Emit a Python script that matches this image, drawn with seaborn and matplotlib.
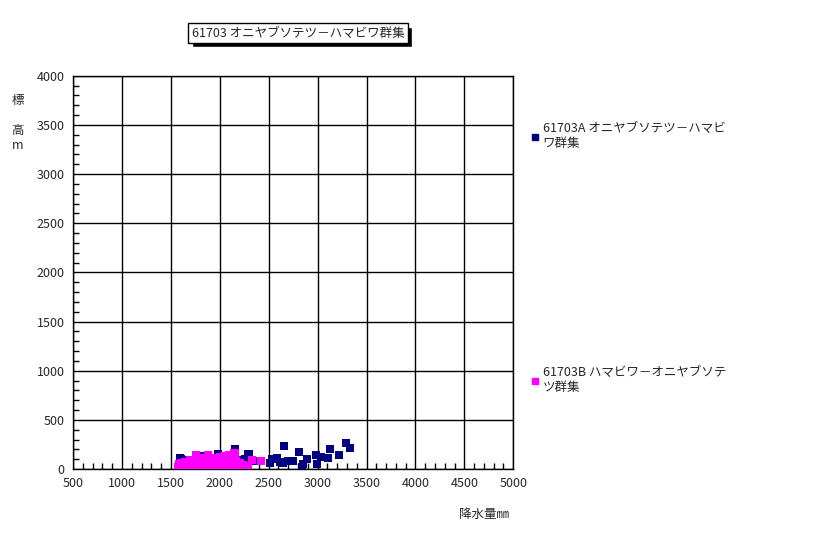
import pandas as pd
import matplotlib.pyplot as plt
import seaborn as sns
from matplotlib.ticker import MultipleLocator
from matplotlib.lines import Line2D
from matplotlib.patches import Rectangle

# group A (navy)
a_x = [1594, 1604, 1686, 1809, 1819, 1983, 2157, 2238, 2259, 2279, 2290, 2300, 2340,
       2514, 2535, 2586, 2616, 2647, 2657, 2698, 2750, 2810, 2841, 2851, 2892,
       2984, 2994, 3035, 3106, 3127, 3219, 3290, 3331]
a_y = [112, 102, 92, 132, 132, 153, 204, 92, 102, 61, 153, 153, 81,
       61, 102, 112, 71, 61, 234, 81, 81, 173, 20, 51, 102,
       143, 51, 122, 112, 204, 143, 265, 214]

# group B (magenta)
b_x = [1570, 1580, 1600, 1610, 1630, 1650, 1660, 1680, 1700, 1710, 1720, 1740, 1760,
       1770, 1790, 1800, 1820, 1830, 1850, 1860, 1880, 1890, 1900, 1920, 1930, 1950,
       1960, 1980, 2000, 2010, 2030, 2050, 2060, 2080, 2100, 2110, 2130, 2150, 2160,
       2180, 2200, 2220, 2240, 2260, 2290, 2330, 2420]
b_y = [20, 50, 30, 60, 10, 70, 40, 20, 90, 50, 10, 30, 140,
       60, 20, 100, 110, 40, 70, 10, 140, 90, 30, 110, 60, 20,
       80, 40, 120, 10, 70, 130, 30, 90, 140, 50, 20, 160, 80,
       40, 60, 20, 40, 10, 30, 90, 80]

label_a = '61703A オニヤブソテツ－ハマビ\nワ群集'
label_b = '61703B ハマビワ－オニヤブソテ\nツ群集'
title = '61703 オニヤブソテツ－ハマビワ群集'

df = pd.DataFrame({
    'x': a_x + b_x,
    'y': a_y + b_y,
    'group': ['A'] * len(a_x) + ['B'] * len(b_x),
})

sns.set_style('white')
plt.rcParams['font.family'] = ['Noto Sans CJK JP', 'DejaVu Sans']

fig = plt.figure(figsize=(8.16, 5.34), dpi=100)
ax = fig.add_axes([0.0895, 0.1217, 0.5395, 0.7363])

sns.scatterplot(data=df, x='x', y='y', hue='group', hue_order=['A', 'B'],
                palette={'A': '#000080', 'B': '#FF00FF'}, marker='s', s=36,
                linewidth=0, ax=ax, legend=False, zorder=3)

ax.set_xlim(500, 5000)
ax.set_ylim(0, 4000)
ax.xaxis.set_major_locator(MultipleLocator(500))
ax.yaxis.set_major_locator(MultipleLocator(500))
ax.xaxis.set_minor_locator(MultipleLocator(100))
ax.yaxis.set_minor_locator(MultipleLocator(100))
ax.grid(True, which='major', color='black', linewidth=1)
ax.tick_params(which='both', direction='in', color='black', labelsize=9,
               bottom=True, left=True)
ax.tick_params(which='major', length=0, pad=6)
ax.tick_params(which='minor', length=4, width=1)
for s in ax.spines.values():
    s.set_color('black')
    s.set_linewidth(1)
ax.set_xlabel('')
ax.set_ylabel('')

fig.text(0.593, 0.03, '降水量㎜', fontsize=9, ha='center')
fig.text(0.022, 0.77, '標\n\n高\nm', fontsize=9, ha='center', va='center', linespacing=1.2)

# title box, with a drop shadow behind it
ttl = fig.text(0.365, 0.938, title, fontsize=9, ha='center', va='center', zorder=5,
               bbox=dict(boxstyle='square,pad=0.3', facecolor='white', edgecolor='black', linewidth=1))
fig.canvas.draw()
bb = ttl.get_bbox_patch().get_window_extent().transformed(fig.transFigure.inverted())
fig.patches.append(Rectangle((bb.x0 + 4 / 816, bb.y0 - 4 / 534), bb.width, bb.height,
                             transform=fig.transFigure, facecolor='black', zorder=4))

h_a = Line2D([], [], marker='s', color='#000080', linestyle='none', markersize=5)
h_b = Line2D([], [], marker='s', color='#FF00FF', linestyle='none', markersize=5)
fig.legend([h_a], [label_a], loc='upper left', bbox_to_anchor=(0.648, 0.771),
           frameon=False, fontsize=9, handletextpad=0.1, handlelength=1,
           borderaxespad=0, borderpad=0)
fig.legend([h_b], [label_b], loc='upper left', bbox_to_anchor=(0.648, 0.314),
           frameon=False, fontsize=9, handletextpad=0.1, handlelength=1,
           borderaxespad=0, borderpad=0)

fig.savefig('out.png', dpi=100)
